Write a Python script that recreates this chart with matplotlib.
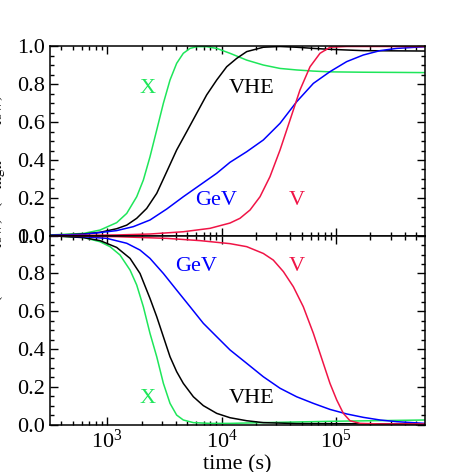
import numpy as np
import matplotlib
matplotlib.use('Agg')
import matplotlib.pyplot as plt
from matplotlib.ticker import MultipleLocator, LogLocator, NullFormatter, FormatStrFormatter

plt.rcParams['font.family'] = ['Liberation Serif', 'DejaVu Serif']
plt.rcParams['mathtext.fontset'] = 'stix'

# log10(time) and normalised flux
# top panel: rising curves
x_up_logt = [2.502, 2.793, 2.939, 3.084, 3.172, 3.259, 3.317, 3.375, 3.434, 3.492, 3.55, 3.608,
             3.666, 3.725, 3.783, 3.87, 3.958, 4.074, 4.22, 4.365, 4.511, 4.656, 4.802, 4.947,
             5.238, 5.53, 5.777]
x_up = [0.004, 0.012, 0.03, 0.069, 0.118, 0.206, 0.294, 0.417, 0.559, 0.70, 0.823, 0.911,
        0.964, 0.99, 0.999, 0.999, 0.99, 0.964, 0.928, 0.902, 0.884, 0.876, 0.87, 0.866,
        0.864, 0.863, 0.862]

vhe_up_logt = [2.502, 2.793, 2.939, 3.084, 3.172, 3.259, 3.346, 3.434, 3.521, 3.608, 3.696,
               3.783, 3.87, 3.958, 4.045, 4.132, 4.22, 4.365, 4.511, 4.656, 4.802, 4.947,
               5.238, 5.777]
vhe_up = [0.002, 0.009, 0.018, 0.037, 0.056, 0.092, 0.144, 0.224, 0.338, 0.453, 0.55,
          0.647, 0.744, 0.823, 0.893, 0.937, 0.973, 0.996, 1.0, 0.996, 0.99, 0.985,
          0.978, 0.976]

gev_up_logt = [2.502, 2.793, 3.084, 3.23, 3.375, 3.521, 3.666, 3.812, 3.958, 4.074, 4.22,
               4.365, 4.511, 4.656, 4.802, 4.947, 5.093, 5.238, 5.384, 5.53, 5.777]
gev_up = [0.002, 0.007, 0.027, 0.048, 0.083, 0.141, 0.206, 0.268, 0.33, 0.388, 0.444,
          0.506, 0.594, 0.708, 0.805, 0.867, 0.92, 0.955, 0.978, 0.99, 0.999]

v_up_logt = [2.502, 3.084, 3.375, 3.666, 3.899, 4.074, 4.161, 4.249, 4.336, 4.423, 4.511,
             4.598, 4.685, 4.773, 4.86, 4.947, 5.093, 5.777]
v_up = [0.0, 0.004, 0.009, 0.021, 0.039, 0.067, 0.092, 0.136, 0.206, 0.312, 0.453,
        0.611, 0.77, 0.893, 0.964, 0.996, 1.0, 1.0]

# bottom panel: decaying curves
x_dn_logt = [2.502, 2.793, 2.939, 3.026, 3.113, 3.201, 3.259, 3.317, 3.375, 3.434, 3.492,
             3.55, 3.608, 3.666, 3.754, 3.899, 4.074, 4.365, 4.947, 5.777]
x_dn = [1.0, 0.991, 0.968, 0.942, 0.898, 0.818, 0.739, 0.624, 0.483, 0.359, 0.218,
        0.112, 0.05, 0.024, 0.01, 0.006, 0.006, 0.01, 0.017, 0.024]

vhe_dn_logt = [2.502, 2.793, 2.939, 3.084, 3.201, 3.288, 3.375, 3.434, 3.492, 3.55, 3.608,
               3.666, 3.754, 3.841, 3.958, 4.074, 4.22, 4.365, 4.656, 5.777]
vhe_dn = [1.0, 0.99, 0.974, 0.938, 0.88, 0.80, 0.668, 0.571, 0.465, 0.359, 0.28,
          0.218, 0.147, 0.10, 0.059, 0.036, 0.02, 0.01, 0.005, 0.003]

gev_dn_logt = [2.502, 2.793, 2.997, 3.172, 3.288, 3.375, 3.492, 3.608, 3.725, 3.841, 3.958,
               4.074, 4.22, 4.365, 4.511, 4.656, 4.802, 4.947, 5.093, 5.238, 5.384, 5.53,
               5.777]
gev_dn = [1.0, 0.995, 0.986, 0.96, 0.924, 0.88, 0.80, 0.712, 0.624, 0.536, 0.465,
          0.395, 0.324, 0.253, 0.192, 0.147, 0.112, 0.08, 0.056, 0.038, 0.024, 0.015,
          0.006]

v_dn_logt = [2.502, 3.084, 3.521, 3.812, 4.074, 4.22, 4.365, 4.452, 4.54, 4.627, 4.714,
             4.802, 4.889, 4.947, 5.006, 5.064, 5.122, 5.209, 5.384, 5.777]
v_dn = [1.0, 0.995, 0.986, 0.974, 0.958, 0.942, 0.906, 0.871, 0.81, 0.73, 0.624,
        0.483, 0.324, 0.218, 0.13, 0.059, 0.02, 0.006, 0.003, 0.003]

green = '#1ee65a'
red = '#f01446'
blue = '#0000ff'
black = '#000000'

fig = plt.figure(figsize=(4.72, 4.72), dpi=100)
ax1 = fig.add_axes([0.106, 0.5006, 0.7944, 0.4009])
ax2 = fig.add_axes([0.106, 0.1006, 0.7944, 0.4000], sharex=ax1)

lw = 1.1
ax1.plot(10**np.array(x_up_logt), x_up, color=green, lw=lw)
ax1.plot(10**np.array(vhe_up_logt), vhe_up, color=black, lw=lw)
ax1.plot(10**np.array(gev_up_logt), gev_up, color=blue, lw=lw)
ax1.plot(10**np.array(v_up_logt), v_up, color=red, lw=lw)

ax2.plot(10**np.array(x_dn_logt), x_dn, color=green, lw=lw)
ax2.plot(10**np.array(vhe_dn_logt), vhe_dn, color=black, lw=lw)
ax2.plot(10**np.array(gev_dn_logt), gev_dn, color=blue, lw=lw)
ax2.plot(10**np.array(v_dn_logt), v_dn, color=red, lw=lw)

fs = 16
ax1.text(10**3.352, 0.78, 'X', color=green, fontsize=fs, ha='center', va='center')
ax1.text(10**4.264, 0.78, 'VHE', color=black, fontsize=fs, ha='center', va='center')
ax1.text(10**3.952, 0.185, 'GeV', color=blue, fontsize=fs, ha='center', va='center')
ax1.text(10**4.656, 0.185, 'V', color=red, fontsize=fs, ha='center', va='center')

ax2.text(10**3.777, 0.836, 'GeV', color=blue, fontsize=fs, ha='center', va='center')
ax2.text(10**4.656, 0.836, 'V', color=red, fontsize=fs, ha='center', va='center')
ax2.text(10**3.352, 0.139, 'X', color=green, fontsize=fs, ha='center', va='center')
ax2.text(10**4.261, 0.139, 'VHE', color=black, fontsize=fs, ha='center', va='center')

for ax in (ax1, ax2):
    ax.set_xscale('log')
    ax.set_xlim(10**2.502, 10**5.777)
    ax.set_ylim(0, 1.0)
    ax.yaxis.set_major_locator(MultipleLocator(0.2))
    ax.yaxis.set_minor_locator(MultipleLocator(0.05))
    ax.yaxis.set_major_formatter(FormatStrFormatter('%.1f'))
    ax.xaxis.set_major_locator(LogLocator(base=10))
    ax.xaxis.set_minor_locator(LogLocator(base=10, subs=np.arange(2, 10)))
    ax.xaxis.set_minor_formatter(NullFormatter())
    ax.tick_params(which='both', direction='in', top=True, right=True, labelsize=fs, width=1.0)
    ax.tick_params(which='major', length=6)
    ax.tick_params(which='minor', length=3)
    for s in ax.spines.values():
        s.set_linewidth(1.1)

ax1.tick_params(labelbottom=False)

# shift the overlapping end labels like the original
fig.canvas.draw()
ax1.get_yticklabels()[0].set_va('bottom')
ax2.get_yticklabels()[-1].set_va('top')

ax2.set_xlabel('time (s)', fontsize=fs, labelpad=2)

fig.text(-0.012, 0.58, r'$(F - F_{\rm low})/(F_{\rm high} - F_{\rm low})$', rotation=90,
         fontsize=fs, ha='center', va='center')

fig.savefig('out.png', dpi=100)
